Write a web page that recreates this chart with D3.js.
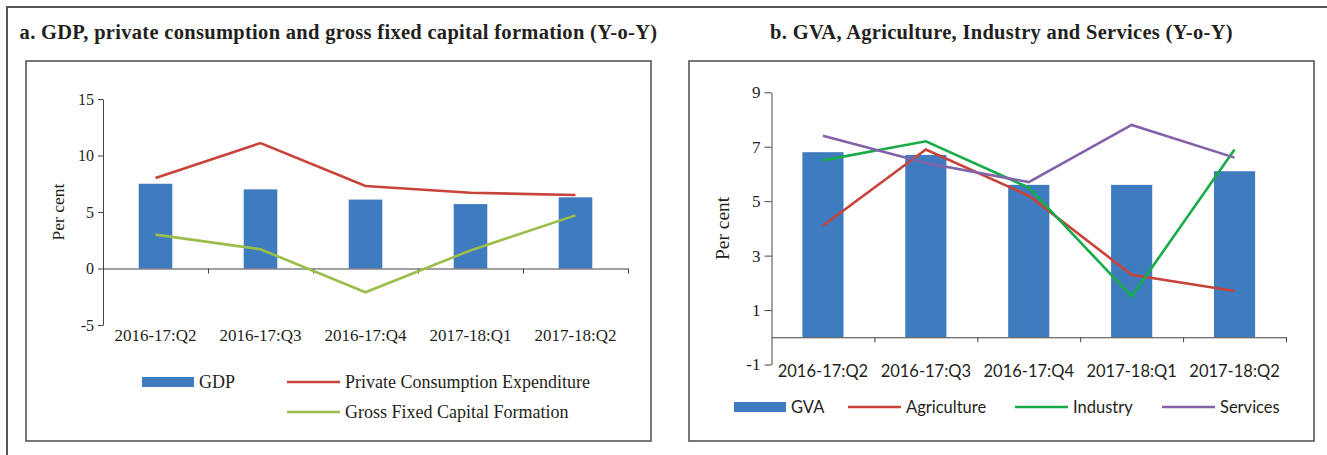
<!DOCTYPE html>
<html>
<head>
<meta charset="utf-8">
<script src="https://cdn.jsdelivr.net/npm/d3@7"></script>
<style>
  body { margin: 0; background: #fff; }
  svg { display: block; }
</style>
</head>
<body>
<svg id="chart" width="1327" height="455"></svg>
<script>
const quarters = ["2016-17:Q2", "2016-17:Q3", "2016-17:Q4", "2017-18:Q1", "2017-18:Q2"];

// panel a
const gdp = [7.5, 7.0, 6.1, 5.7, 6.3];
const pfce = [8.0, 11.1, 7.3, 6.7, 6.5];
const gfcf = [3.0, 1.7, -2.1, 1.6, 4.7];
const ticksA = [-5, 0, 5, 10, 15];

// panel b
const gva = [6.8, 6.7, 5.6, 5.6, 6.1];
const agriculture = [4.1, 6.9, 5.2, 2.3, 1.7];
const industry = [6.5, 7.2, 5.5, 1.5, 6.9];
const services = [7.4, 6.4, 5.7, 7.8, 6.6];
const ticksB = [-1, 1, 3, 5, 7, 9];

const blue = "#3f7bbf";
const red = "#c8433a";
const olive = "#9bbd4b";
const green = "#18ab4a";
const purple = "#8262a8";
const ink = "#231f20";
const frame = "#555";
const serif = "'Liberation Serif', serif";
const sans = "Lato, sans-serif";

const svg = d3.select("#chart");

// outer frame (top and left only visible)
svg.append("path")
    .attr("d", "M7,455V7H1327")
    .attr("fill", "none")
    .attr("stroke", frame)
    .attr("stroke-width", 2);

const panel = (cfg) => {
    const g = svg.append("g");

    g.append("rect")
        .attr("x", cfg.box[0]).attr("y", cfg.box[1])
        .attr("width", cfg.box[2] - cfg.box[0]).attr("height", cfg.box[3] - cfg.box[1])
        .attr("fill", "none").attr("stroke", frame).attr("stroke-width", 1.6);

    g.append("text")
        .attr("x", (cfg.box[0] + cfg.box[2]) / 2).attr("y", 39)
        .attr("text-anchor", "middle")
        .attr("font-family", serif).attr("font-weight", "bold")
        .attr("font-size", cfg.titleSize).attr("fill", ink)
        .attr("letter-spacing", 0.3)
        .text(cfg.title);

    const x = d3.scaleBand(quarters, cfg.xRange);
    const y = d3.scaleLinear(cfg.domain, cfg.yRange);
    const bw = x.bandwidth();

    // bars
    g.append("g").selectAll("rect")
        .data(cfg.bars)
        .join("rect")
        .attr("x", (d, i) => x(quarters[i]) + bw * (1 - cfg.barFrac) / 2)
        .attr("width", bw * cfg.barFrac)
        .attr("y", d => y(Math.max(0, d)))
        .attr("height", d => Math.abs(y(d) - y(0)))
        .attr("fill", blue);

    // y axis
    const ya = g.append("g")
        .attr("transform", `translate(${cfg.xRange[0]},0)`)
        .call(d3.axisLeft(y).tickValues(cfg.ticks).tickFormat(d => String(d))
            .tickSize(cfg.ytick).tickSizeOuter(0).tickPadding(4));
    ya.select(".domain").attr("stroke", "#444");
    ya.selectAll(".tick line").attr("stroke", "#444");
    ya.selectAll("text").attr("font-family", serif).attr("font-size", cfg.ytickSize).attr("fill", ink);

    // x axis line at zero with ticks at category boundaries
    const xa = g.append("g")
        .attr("transform", `translate(0,${y(0)})`)
        .call(d3.axisBottom(d3.scaleLinear([0, quarters.length], cfg.xRange))
            .tickValues(d3.range(1, quarters.length + 1)).tickSize(5).tickSizeOuter(0).tickFormat(""));
    xa.select(".domain").attr("stroke", "#444");
    xa.selectAll(".tick line").attr("stroke", "#444");

    // category labels below the plot
    const xl = g.append("g")
        .attr("transform", `translate(0,${cfg.labelY})`)
        .call(d3.axisBottom(x).tickSize(0).tickPadding(0));
    xl.select(".domain").remove();
    xl.selectAll("text")
        .attr("dy", 0)
        .attr("font-family", cfg.labelFont).attr("font-size", cfg.labelSize).attr("fill", ink);

    // y title
    g.append("text")
        .attr("transform", `translate(${cfg.yTitleX},${(cfg.yRange[0] + cfg.yRange[1]) / 2}) rotate(-90)`)
        .attr("text-anchor", "middle")
        .attr("font-family", serif).attr("font-size", cfg.yTitleSize).attr("fill", ink)
        .text("Per cent");

    // lines
    const line = d3.line().x((d, i) => x(quarters[i]) + bw / 2).y(d => y(d));
    g.append("g").attr("fill", "none").attr("stroke-width", 2.6)
        .selectAll("path")
        .data(cfg.lines)
        .join("path")
        .attr("stroke", d => d.color)
        .attr("d", d => line(d.values));

    // legend
    const lg = g.append("g").attr("font-family", cfg.legendFont).attr("font-size", cfg.legendSize).attr("fill", ink);
    cfg.legend.forEach(item => {
        if (item.bar) {
            lg.append("rect").attr("x", item.x).attr("y", item.y - 5).attr("width", item.w).attr("height", 10).attr("fill", blue);
        } else {
            lg.append("line").attr("x1", item.x).attr("x2", item.x + item.w)
                .attr("y1", item.y).attr("y2", item.y)
                .attr("stroke", item.color).attr("stroke-width", 2.6);
        }
        lg.append("text").attr("x", item.x + item.w + 5).attr("y", item.y + 6).text(item.label);
    });
};

panel({
    box: [26, 61, 651, 441],
    title: "a. GDP, private consumption and gross fixed capital formation (Y-o-Y)",
    titleSize: 20.5,
    xRange: [103, 628],
    yRange: [325, 99],
    domain: [-5, 15],
    ticks: ticksA,
    ytick: 5,
    ytickSize: 16,
    bars: gdp,
    barFrac: 0.32,
    labelY: 341,
    labelFont: serif,
    labelSize: 17,
    yTitleX: 64,
    yTitleSize: 17.5,
    lines: [{ color: red, values: pfce }, { color: olive, values: gfcf }],
    legendFont: serif,
    legendSize: 18,
    legend: [
        { bar: true, x: 142, y: 382, w: 52, label: "GDP" },
        { color: red, x: 287, y: 382, w: 53, label: "Private Consumption Expenditure" },
        { color: olive, x: 287, y: 412, w: 53, label: "Gross Fixed Capital Formation" }
    ]
});

panel({
    box: [689, 61, 1314, 441],
    title: "b. GVA, Agriculture, Industry and Services (Y-o-Y)",
    titleSize: 20.5,
    xRange: [771.5, 1286],
    yRange: [364.5, 92.3],
    domain: [-1, 9],
    ticks: ticksB,
    ytick: 7,
    ytickSize: 17,
    bars: gva,
    barFrac: 0.4,
    labelY: 377,
    labelFont: sans,
    labelSize: 16.5,
    yTitleX: 729,
    yTitleSize: 19.5,
    lines: [
        { color: red, values: agriculture },
        { color: green, values: industry },
        { color: purple, values: services }
    ],
    legendFont: sans,
    legendSize: 16.5,
    legend: [
        { bar: true, x: 734, y: 407, w: 52, label: "GVA" },
        { color: red, x: 848, y: 407, w: 53, label: "Agriculture" },
        { color: green, x: 1015, y: 407, w: 53, label: "Industry" },
        { color: purple, x: 1162, y: 407, w: 53, label: "Services" }
    ]
});
</script>
</body>
</html>
